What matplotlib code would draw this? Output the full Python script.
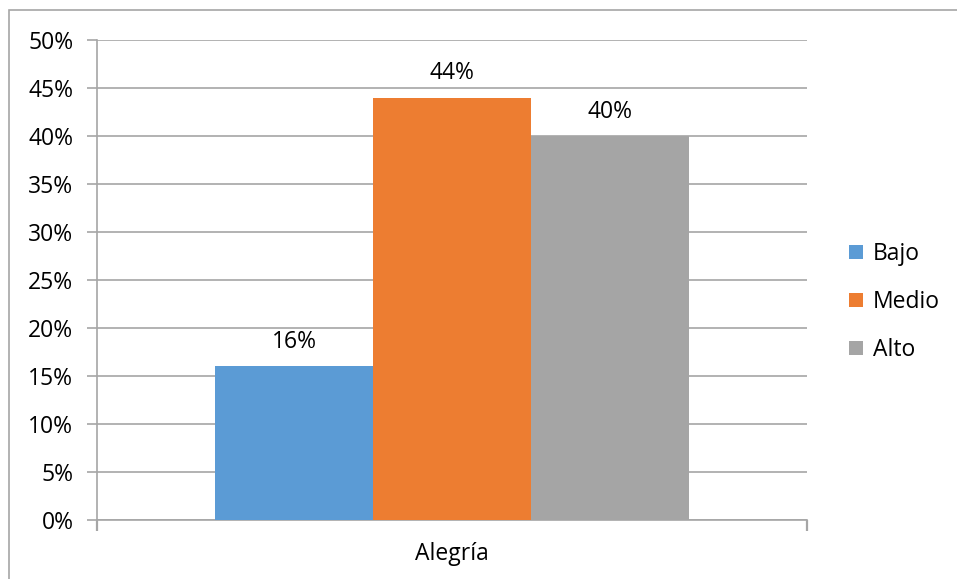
import matplotlib
matplotlib.use("Agg")
import matplotlib.pyplot as plt
from matplotlib.patches import Rectangle

category = "Alegría"
series = ["Bajo", "Medio", "Alto"]
values = [16, 44, 40]
colors = ["#5B9BD5", "#ED7D31", "#A5A5A5"]
yticks = [0, 5, 10, 15, 20, 25, 30, 35, 40, 45, 50]

plt.rcParams["font.family"] = ["Open Sans", "DejaVu Sans"]
fs = 16.5

W, H = 957, 579
fig = plt.figure(figsize=(W / 100, H / 100), dpi=100)
ax = fig.add_axes([97 / W, (H - 520) / H, 710 / W, 480 / H])

# outer chart frame
fig.patches.append(Rectangle((8.5 / W, -0.01), 2, (H - 10.5) / H + 0.01,
                             transform=fig.transFigure, fill=False,
                             edgecolor="#A6A6A6", linewidth=1.2))

bw = 158 / 710
offsets = [-bw, 0, bw]
for name, v, c, off in zip(series, values, colors, offsets):
    ax.bar(off, v, width=bw, color=c, label=name, zorder=3)
    ax.text(off, v + 1.3, f"{v}%", ha="center", va="bottom", fontsize=fs, color="#000000")

ax.set_xlim(-0.5, 0.5)
ax.set_ylim(0, 50)
ax.set_yticks(yticks)
ax.set_yticklabels([f"{t}%" for t in yticks], fontsize=fs)
ax.yaxis.grid(True, color="#A6A6A6", linewidth=1.2, zorder=0)
ax.tick_params(axis="y", length=7, width=1.2, color="#A6A6A6", pad=10)

ax.set_xticks([-0.5, 0.5])
ax.set_xticklabels(["", ""])
ax.tick_params(axis="x", length=8, width=1.6, color="#A6A6A6")
ax.text(0.5, -0.045, category, transform=ax.transAxes, ha="center", va="top", fontsize=fs)

for s in ["top", "right"]:
    ax.spines[s].set_visible(False)
ax.spines["left"].set_color("#A6A6A6")
ax.spines["left"].set_linewidth(1.2)
ax.spines["bottom"].set_color("#A6A6A6")
ax.spines["bottom"].set_linewidth(1.2)

ax.legend(loc="center left", bbox_to_anchor=(1.03, 0.454), frameon=False,
          fontsize=fs, handlelength=0.6, handleheight=0.6, handletextpad=0.45,
          labelspacing=1.05)

fig.savefig("out.png", dpi=100)
